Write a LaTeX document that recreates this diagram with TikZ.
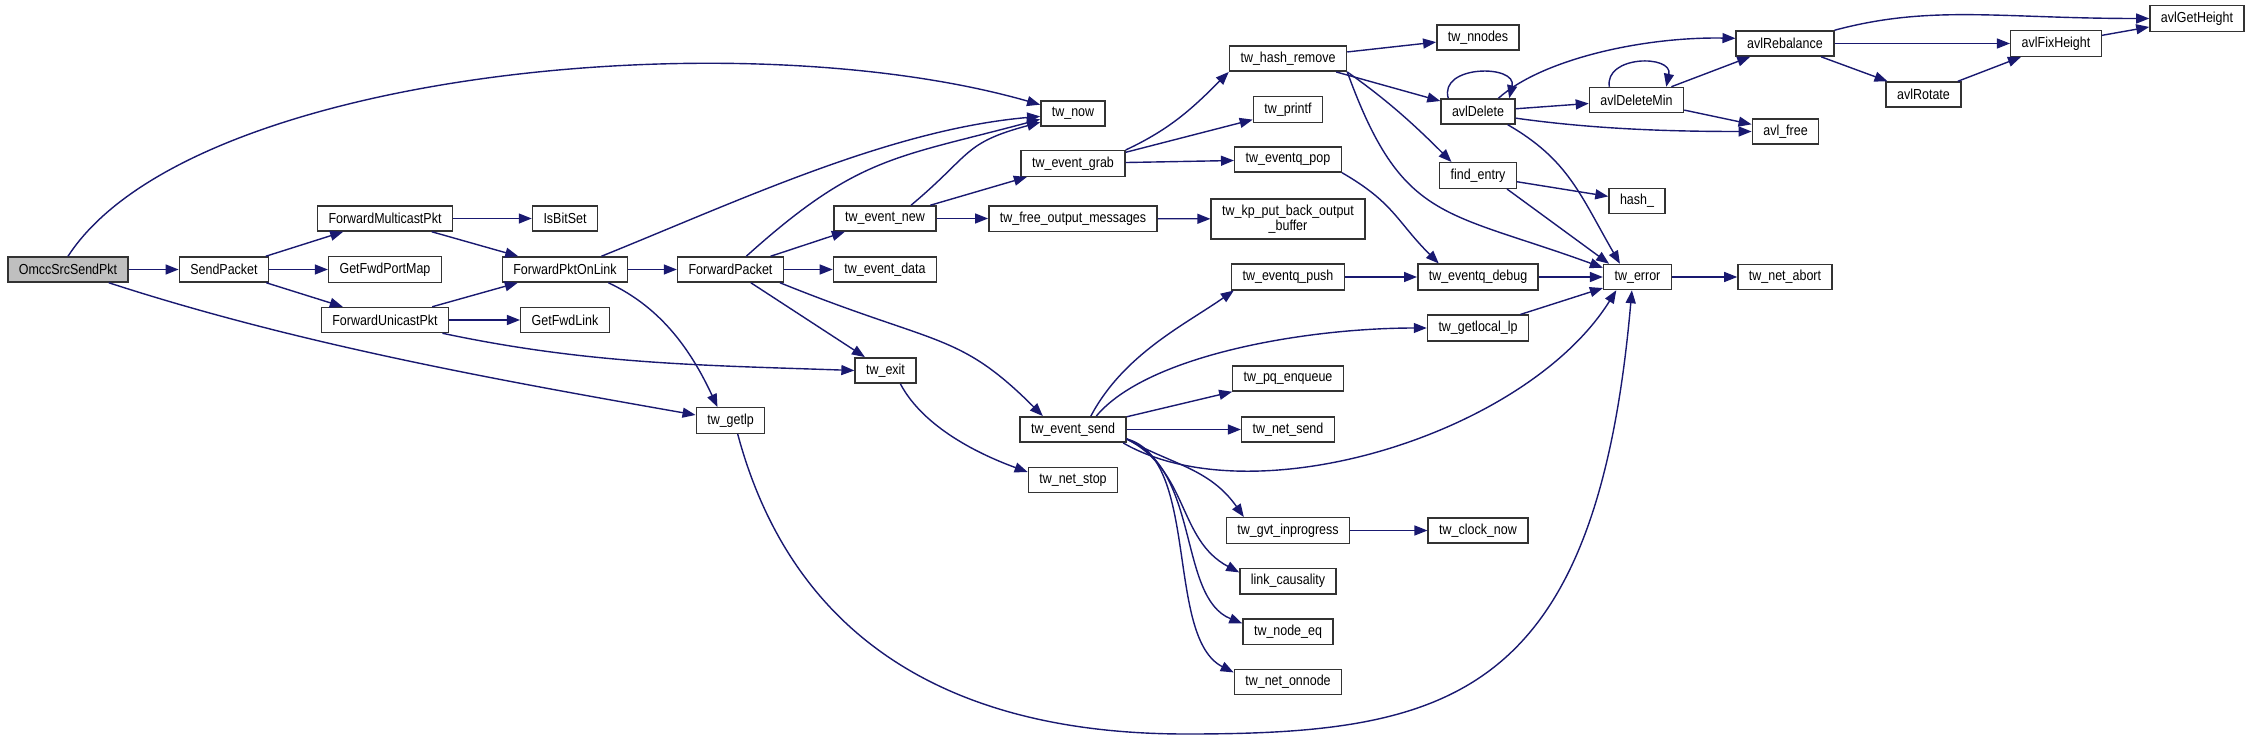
\documentclass[tikz,border=0pt]{standalone}
\usepackage{fontspec}
\setmainfont[FakeStretch=0.86]{Liberation Sans}
\usetikzlibrary{arrows.meta}
\definecolor{callblue}{HTML}{191970}
\definecolor{rootgray}{HTML}{BFBFBF}

\begin{document}
\begin{tikzpicture}[x=1pt, y=1pt,
  func/.style={draw=black!80, line width=1.5pt, fill=white, minimum height=25pt, inner xsep=11pt, inner ysep=6pt, font=\fontsize{14.5}{13.5}\selectfont},
  callarrow/.style={draw=callblue, line width=1.4pt, -{Triangle[length=13pt, width=10pt]}}]
\useasboundingbox (0,0) rectangle (2251,-739);
\node[func, fill=rootgray] (omcc) at (68,-269.5) {OmccSrcSendPkt};
\foreach \n/\x/\y/\t in {sendp/224/269.5/SendPacket, fmc/385/218.5/ForwardMulticastPkt,
  gfpm/385/269.5/GetFwdPortMap, fuc/385/320/ForwardUnicastPkt, isbit/565/218.5/IsBitSet,
  fpol/565/269.5/ForwardPktOnLink, gfl/565/320/GetFwdLink, fpkt/730.5/269.5/ForwardPacket,
  getlp/730.5/420.5/tw\_getlp, evnew/885/218.5/tw\_event\_new, evdata/885/269.5/tw\_event\_data,
  exit/885.5/370.5/tw\_exit, now/1073/113.5/tw\_now, grab/1073/163.5/tw\_event\_grab,
  free/1073/218.5/tw\_free\_output\_messages, send/1073/429.5/tw\_event\_send,
  netstop/1073/480/tw\_net\_stop, hashrm/1288/58.5/tw\_hash\_remove, printf/1288/109.5/tw\_printf,
  pop/1288/159.5/tw\_eventq\_pop, push/1288/277/tw\_eventq\_push, pq/1288/378.5/tw\_pq\_enqueue,
  netsend/1288/429.5/tw\_net\_send, gvt/1288/530.5/tw\_gvt\_inprogress, link/1288/581/link\_causality,
  nodeeq/1288/631.5/tw\_node\_eq, onnode/1288/682/tw\_net\_onnode, nnodes/1478/37.5/tw\_nnodes,
  avldel/1478/111.5/avlDelete, find/1478/175.5/find\_entry, debug/1478/277/tw\_eventq\_debug,
  getlocal/1478/328/tw\_getlocal\_lp, clock/1478/530.5/tw\_clock\_now, delmin/1636.5/100/avlDeleteMin,
  hash/1637/201/hash\_, error/1637.5/277/tw\_error, rebal/1785/43.5/avlRebalance,
  avlfree/1785.5/131.5/avl\_free, abort/1785/277/tw\_net\_abort, rotate/1923.5/94.5/avlRotate,
  fixh/2056/43.5/avlFixHeight, geth/2197/18.5/avlGetHeight} {
\node[func] (\n) at (\x,-\y) {\t};
}
\node[func, align=center] (kp) at (1288,-219) {tw\_kp\_put\_back\_output\\\_buffer};
\coordinate (lowpt) at (1186,-734);
\foreach \a/\b in {omcc/sendp, sendp/fmc, sendp/gfpm, sendp/fuc, fmc/isbit, fmc/fpol, fuc/fpol,
  fuc/gfl, fpol/fpkt, fpkt/evnew, fpkt/evdata, fpkt/exit, evnew/grab, evnew/free, free/kp,
  grab/pop, hashrm/nnodes, hashrm/avldel, avldel/delmin, delmin/rebal, delmin/avlfree,
  rebal/fixh, rebal/rotate, rotate/fixh, fixh/geth, find/hash, debug/error, error/abort,
  getlocal/error, send/pq, send/netsend, gvt/clock, push/debug} {
\draw [callarrow] (\a) -- (\b);
}
\draw [callarrow] (grab.12) -- (printf.196);
\draw [callarrow] (find.-25) -- (error.155);
\draw [callarrow] (omcc.north) to[out=57, in=164, out distance=221pt, in distance=312pt] (now.165);
\draw [callarrow] (omcc.-18) to[out=-18, in=170, out distance=200pt, in distance=200pt] (getlp.171);
\draw [callarrow] (fuc.-13) to[out=-12, in=178, out distance=150pt, in distance=150pt] (exit.west);
\draw [callarrow] (fpol.20) to[out=22, in=185, out distance=150pt, in distance=150pt] (now.185);
\draw [callarrow] (fpol.-17) to[out=-25, in=115, out distance=60pt, in distance=60pt] (getlp.134);
\draw [callarrow] (fpkt.40) to[out=42, in=195, out distance=150pt, in distance=150pt] (now.190);
\draw [callarrow] (fpkt.-15.5) to[out=-22, in=135, out distance=170pt, in distance=120pt] (send.156);
\draw [callarrow] (evnew.27) to[out=40, in=195, out distance=80pt, in distance=80pt] (now.195);
\draw [callarrow] (grab.north east) to[out=25, in=225, out distance=50pt, in distance=50pt] (hashrm.south west);
\draw [callarrow] (pop.south east) to[out=-30, in=135, out distance=60pt, in distance=60pt] (debug.161);
\draw [callarrow] (hashrm.south east) to[out=-35, in=135, out distance=50pt, in distance=50pt] (find.153);
\draw [callarrow] (hashrm.south east) to[out=-70, in=160, out distance=160pt, in distance=170pt] (error.165);
\draw [callarrow] (avldel.-24) to[out=-30, in=120, out distance=70pt, in distance=80pt] (error.143);
\draw [callarrow] (send.-15) to[out=-30, in=238, out distance=150pt, in distance=170pt] (error.212);
\draw [callarrow] (getlp.-62) to[out=-75, in=180, out distance=200pt, in distance=250pt] (lowpt)
  to[out=0, in=-95, out distance=264pt, in distance=410pt] (error.247);
\draw [callarrow] (exit.-42) to[out=-62, in=160, out distance=50pt, in distance=50pt] (netstop.170);
\draw [callarrow] (send.37) to[out=62, in=215, out distance=70pt, in distance=60pt] (push.194);
\draw [callarrow] (send.30) to[out=50, in=180, out distance=80pt, in distance=120pt] (getlocal.west);
\draw [callarrow] (send.-10) to[out=-30, in=125, out distance=50pt, in distance=60pt] (gvt.163);
\draw [callarrow] (send.-10) to[out=-27, in=152, out distance=70pt, in distance=70pt] (link.170);
\draw [callarrow] (send.-10) to[out=-22, in=158, out distance=80pt, in distance=70pt] (nodeeq.170);
\draw [callarrow] (send.-10) to[out=-15, in=153, out distance=76pt, in distance=77pt] (onnode.170);
\draw [callarrow] (avldel.156) to[out=106, in=77, out distance=35pt, in distance=35pt] (avldel.23);
\draw [callarrow] (avldel.33) to[out=42, in=179, out distance=58pt, in distance=93pt] (rebal.174);
\draw [callarrow] (avldel.-10) to[out=-8, in=180, out distance=80pt, in distance=80pt] (avlfree.west);
\draw [callarrow] (delmin.154) to[out=99, in=78, out distance=32pt, in distance=33pt] (delmin.24);
\draw [callarrow] (rebal.15) to[out=15, in=180, out distance=100pt, in distance=150pt] (geth.west);
\end{tikzpicture}
\end{document}
